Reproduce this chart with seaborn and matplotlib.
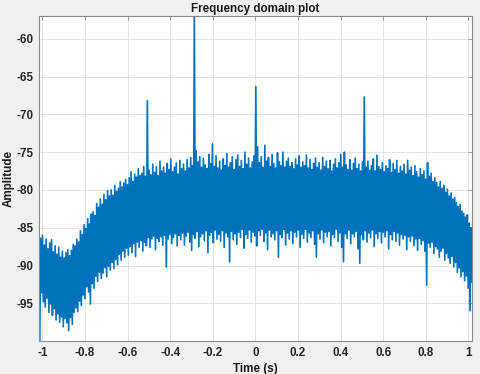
import numpy as np
import pandas as pd
import matplotlib
matplotlib.use("Agg")
import matplotlib.pyplot as plt
import seaborn as sns

# upper tips of the noisy trace, left to right (incl. the four tones)
peaks = [
    -85.0, -86.4, -86.0, -87.3, -86.5, -87.8, -87.0, -86.6, -88.2, -87.4,
    -88.5, -87.6, -88.9, -88.1, -89.0, -88.3, -87.9, -88.7, -88.0, -87.2,
    -87.4, -86.5, -86.9, -85.4, -85.9, -84.6, -85.1, -83.8, -84.5, -83.2,
    -82.9, -83.4, -81.8, -82.3, -81.2, -81.9, -80.6, -81.3, -80.1, -80.8,
    -80.0, -80.7, -79.4, -80.2, -79.8, -78.9, -79.6, -79.1, -78.6, -79.3,
    -78.4, -77.6, -78.9, -77.9, -78.3, -77.2, -78.1, -77.8, -76.9, -78.2,
    -68.2, -77.4, -78.0, -76.6, -77.7, -76.9, -78.1, -76.2, -77.5, -77.0,
    -77.8, -76.5, -77.3, -75.9, -77.6, -77.0, -76.4, -77.9, -76.1, -77.2,
    -76.6, -77.5, -76.0, -77.1, -75.7, -76.8, -57.0, -74.8, -76.3, -75.6,
    -77.0, -75.8, -76.7, -77.2, -75.3, -76.5, -73.9, -76.9, -75.5, -77.1,
    -76.2, -77.4, -75.9, -76.8, -75.2, -77.0, -76.4, -75.6, -77.3, -76.0,
    -75.4, -76.9, -76.1, -77.2, -75.0, -76.6, -75.8, -77.1, -76.3, -75.5,
    -66.3, -74.3, -76.4, -75.6, -77.0, -74.1, -76.2, -75.7, -76.9, -75.3,
    -76.5, -77.1, -75.1, -76.3, -76.8, -75.0, -77.0, -76.2, -75.8, -76.9,
    -76.4, -77.2, -75.9, -76.7, -75.5, -77.0, -76.3, -76.8, -75.4, -77.1,
    -76.0, -77.3, -76.5, -75.8, -77.0, -76.4, -77.4, -75.7, -76.9, -76.2,
    -77.2, -76.1, -77.5, -76.6, -75.9, -77.1, -76.4, -75.3, -77.0, -75.0,
    -76.7, -77.3, -76.0, -77.4, -76.5, -75.8, -77.2, -76.6, -77.5, -76.3,
    -67.7, -77.0, -76.2, -77.4, -76.8, -75.9, -77.5, -75.4, -76.9, -77.3,
    -76.4, -77.6, -76.8, -77.2, -76.0, -77.7, -76.5, -77.3, -76.1, -77.8,
    -76.9, -77.5, -76.6, -77.9, -76.1, -77.4, -77.0, -78.1, -76.8, -77.6,
    -78.3, -77.2, -78.0, -77.5, -78.6, -76.4, -78.2, -77.8, -78.9, -78.4,
    -79.0, -79.6, -78.9, -79.8, -79.4, -80.3, -79.9, -80.8, -80.4, -81.2,
    -81.0, -81.7, -82.2, -81.9, -82.8, -83.1, -83.6, -83.3, -84.4, -85.0,
]

# lower tips of the noisy trace, left to right
troughs = [
    -100.0, -93.6, -94.8, -95.5, -94.3, -96.2, -95.1, -96.6, -95.7, -97.2,
    -96.4, -97.5, -96.8, -98.1, -97.0, -97.6, -98.6, -96.9, -97.8, -96.2,
    -95.6, -96.1, -94.7, -95.3, -93.9, -94.4, -92.8, -93.5, -95.1, -92.4,
    -93.0, -91.4, -92.1, -90.9, -91.7, -91.0, -90.3, -91.5, -90.1, -90.6,
    -89.6, -90.4, -89.2, -89.9, -88.5, -89.3, -88.1, -88.9, -87.7, -88.6,
    -87.5, -88.3, -87.1, -88.8, -86.9, -87.6, -86.7, -88.1, -86.9, -87.4,
    -86.3, -87.6, -86.5, -86.1, -87.9, -86.4, -86.8, -86.2, -87.3, -86.0,
    -90.2, -86.5, -85.9, -87.1, -86.3, -85.8, -87.4, -86.0, -86.6, -85.7,
    -87.3, -86.1, -85.6, -86.9, -88.0, -85.9, -86.4, -85.5, -87.5, -86.2,
    -85.8, -86.7, -85.4, -88.3, -86.0, -85.6, -87.0, -85.3, -86.5, -85.9,
    -86.8, -85.4, -87.6, -85.7, -86.2, -89.5, -85.5, -86.6, -85.8, -87.2,
    -85.6, -86.3, -85.2, -87.7, -85.9, -86.4, -85.3, -86.9, -85.6, -86.1,
    -87.4, -85.4, -86.0, -85.2, -86.8, -85.7, -87.9, -85.3, -86.2, -85.8,
    -86.6, -85.4, -88.9, -85.9, -86.3, -85.2, -87.3, -85.7, -86.5, -85.4,
    -87.1, -85.6, -86.2, -85.3, -87.6, -85.9, -86.4, -85.2, -86.9, -85.7,
    -86.3, -85.4, -87.2, -88.9, -85.8, -86.5, -85.3, -87.0, -85.6, -86.2,
    -85.5, -87.4, -85.9, -86.3, -85.2, -86.8, -85.7, -87.6, -89.5, -85.8,
    -86.4, -85.3, -87.1, -85.8, -86.2, -85.5, -87.8, -89.7, -85.9, -86.6,
    -85.4, -86.9, -85.7, -86.3, -85.3, -87.5, -85.8, -86.4, -85.5, -87.0,
    -85.6, -86.2, -85.4, -87.8, -85.9, -86.6, -85.5, -86.8, -85.7, -87.3,
    -85.9, -86.5, -86.0, -87.9, -86.2, -86.8, -86.1, -87.4, -86.5, -88.0,
    -86.4, -87.2, -86.7, -88.1, -92.6, -87.0, -87.6, -86.9, -88.4, -87.5,
    -87.8, -88.9, -88.1, -87.7, -89.3, -88.4, -89.0, -89.7, -88.8, -90.2,
    -89.6, -90.9, -90.3, -91.5, -90.8, -92.0, -91.4, -93.0, -96.0, -92.2,
]

xtick_vals = [-1, -0.8, -0.6, -0.4, -0.2, 0, 0.2, 0.4, 0.6, 0.8, 1]
xtick_labels = ["-1", "-0.8", "-0.6", "-0.4", "-0.2", "0", "0.2", "0.4", "0.6", "0.8", "1"]
ytick_vals = [-95, -90, -85, -80, -75, -70, -65, -60]

amp = np.empty(len(peaks) + len(troughs))
amp[0::2] = peaks
amp[1::2] = troughs
df = pd.DataFrame({"Time": np.linspace(-1.016, 1.016, len(amp)), "Amplitude": amp})

sns.set_theme(style="whitegrid")
plt.rcParams["font.family"] = ["Liberation Sans", "DejaVu Sans"]
plt.rcParams["axes.unicode_minus"] = False

fig = plt.figure(figsize=(4.8, 3.74), dpi=100, facecolor="#f0f0f0")
ax = fig.add_axes([0.081, 0.088, 0.902, 0.869])
ax.set_facecolor("white")

sns.lineplot(data=df, x="Time", y="Amplitude", ax=ax, estimator=None, sort=False,
             color="#0072bd", linewidth=1.2)

ax.set_xlim(-1.016, 1.016)
ax.set_ylim(-100, -57)
ax.set_xticks(xtick_vals)
ax.set_xticklabels(xtick_labels)
ax.set_yticks(ytick_vals)
ax.set_yticklabels([str(v) for v in ytick_vals])

ax.grid(True, color="#e3e3e3", linewidth=0.7)
for s in ax.spines.values():
    s.set_color("#8a8a8a")
    s.set_linewidth(0.8)
ax.tick_params(direction="in", length=3, width=0.6, color="#8a8a8a",
               labelsize=8.4, pad=4, top=True, right=True)
for lab in ax.get_xticklabels() + ax.get_yticklabels():
    lab.set_fontweight("bold")
    lab.set_color("#262626")

ax.set_title("Frequency domain plot", fontsize=8.4, fontweight="bold", color="#1a1a1a", pad=3)
ax.set_xlabel("Time (s)", fontsize=8.4, fontweight="bold", color="#1a1a1a", labelpad=3)
ax.set_ylabel("Amplitude", fontsize=8.4, fontweight="bold", color="#1a1a1a", labelpad=1)

fig.savefig("out.png", dpi=100, facecolor=fig.get_facecolor())
